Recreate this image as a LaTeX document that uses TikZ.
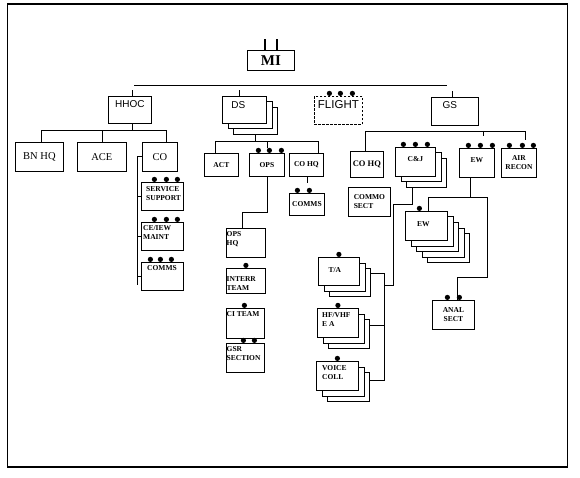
\documentclass[tikz,border=0pt]{standalone}
\usepackage{fontspec}
\setmainfont{Liberation Serif}
\setsansfont{Liberation Sans}
\usetikzlibrary{positioning, shadows}

\newcommand{\unitdots}[2]{\foreach \d in {#2}{\fill (#1.north) ++(\d,-2.6) circle (2.6pt);}}

\begin{document}
\begin{tikzpicture}[x=1pt, y=-1pt,
  box/.style={draw, fill=white, line width=.8pt, inner sep=0pt, anchor=north west},
  stack/.style={box, copy shadow={shadow xshift=11pt, shadow yshift=-11pt},
    copy shadow={shadow xshift=5.5pt, shadow yshift=-5.5pt}},
  deep/.style={box, copy shadow={shadow xshift=22pt, shadow yshift=-22pt},
    copy shadow={shadow xshift=16.5pt, shadow yshift=-16.5pt},
    copy shadow={shadow xshift=11pt, shadow yshift=-11pt},
    copy shadow={shadow xshift=5.5pt, shadow yshift=-5.5pt}},
  ln/.style={line width=.8pt},
  unittick/.style={line width=1.2pt},
  tag/.style={font=\fontsize{7.5}{9}\selectfont\bfseries, align=left, inner sep=1pt},
  big/.style={font=\fontsize{10.5}{12}\selectfont},
  hdr/.style={font=\sffamily\fontsize{10}{12}\selectfont, inner sep=1pt}]
  \useasboundingbox (0,0) rectangle (580,478);
  \draw[line width=1pt] (7,4) rectangle (567,467);
  \draw[line width=2pt] (7,4) -- (567,4) (7,467) -- (567,467);

  % top
  \node[box, minimum width=47pt, minimum height=20pt, font=\fontsize{15}{15}\selectfont\bfseries] (mi) at (247,50) {MI};
  \draw[unittick] ([xshift=-6pt]mi.north) -- ++(0,-11);
  \draw[unittick] ([xshift=6pt]mi.north) -- ++(0,-11);
  \draw[ln] (134,85) -- (447,85);

  \node[box, minimum width=43pt, minimum height=27pt, label={[hdr, anchor=north, yshift=-3pt]north:HHOC}] (hhoc) at (108,96) {};
  \node[stack, minimum width=44pt, minimum height=27pt, label={[hdr, anchor=north, xshift=-6pt, yshift=-4pt]north:DS}] (ds) at (222,96) {};
  \node[box, dashed, dash pattern=on 2.5pt off 1.5pt, minimum width=48pt, minimum height=28pt,
    label={[hdr, anchor=north, yshift=-3pt, font=\sffamily\fontsize{11.5}{12}\selectfont]north:FLIGHT}] (flight) at (314,96) {};
  \node[box, minimum width=47pt, minimum height=28pt, label={[hdr, anchor=north, xshift=-5pt, yshift=-3pt]north:GS}] (gs) at (431,97) {};
  \draw[unittick] ([xshift=2.5pt]hhoc.north) -- ++(0,-6);
  \draw[unittick] ([xshift=-5pt]ds.north) -- ++(0,-6);
  \draw[unittick] ([xshift=-2.5pt]gs.north) -- ++(0,-6);
  \unitdots{flight}{-9,2,14}

  % HHOC
  \node[box, big, minimum width=48pt, minimum height=29pt] (bnhq) at (15,142) {BN HQ};
  \node[box, big, minimum width=49pt, minimum height=29pt] (ace) at (77,142) {ACE};
  \node[box, big, minimum width=35pt, minimum height=29pt] (co) at (142,142) {CO};
  \draw[ln] ([xshift=2.5pt]hhoc.south) -- ++(0,7) coordinate (hb);
  \draw[ln] ([xshift=2pt]bnhq.north) |- (hb) -| ([xshift=6.5pt]co.north);
  \draw[ln] (ace.north) -- (ace.north |- hb);

  \node[box, minimum width=42pt, minimum height=28pt, label={[tag, anchor=north west, xshift=4pt, yshift=-3pt]north west:SERVICE\\SUPPORT}] (ss) at (141,182) {};
  \node[box, minimum width=42pt, minimum height=28pt, label={[tag, anchor=north west, xshift=1pt, yshift=-2.5pt]north west:CE/IEW\\MAINT}] (ce) at (141,222) {};
  \node[box, minimum width=42pt, minimum height=28pt, label={[tag, anchor=north west, xshift=5pt, yshift=-2.5pt]north west:COMMS}] (cm) at (141,262) {};
  \draw[ln] (co.west) -| ([xshift=-4pt, yshift=-9pt]cm.west);
  \foreach \n in {ss,ce,cm} \draw[ln] (\n.west) -- ++(-4,0);
  \unitdots{ss}{-8,4,15}
  \unitdots{ce}{-8,4,15}
  \unitdots{cm}{-12,-2,9}

  % DS
  \node[box, tag, minimum width=34pt, minimum height=23pt] (act) at (204,153) {ACT};
  \node[box, tag, minimum width=35pt, minimum height=23pt] (ops) at (249,153) {OPS};
  \node[box, tag, minimum width=34pt, minimum height=23pt] (cohq) at (289,153) {CO HQ};
  \draw[ln] ([xshift=11pt, yshift=-11pt]ds.south) -- ++(0,7) coordinate (db);
  \draw[ln] ([xshift=-6pt]act.north) |- (db) -| ([xshift=12pt]cohq.north);
  \draw[ln] (ops.north |- db) -- ++(0,6);
  \unitdots{ops}{-8.5,2.5,14.5}

  \node[box, tag, minimum width=35pt, minimum height=22pt] (dcm) at (289,193) {COMMS};
  \draw[ln] ([xshift=1pt]cohq.south) -- ++(0,6);
  \unitdots{dcm}{-9.5,2.5}

  \node[box, minimum width=39pt, minimum height=29pt, label={[tag, anchor=north west, inner sep=.5pt, yshift=-3pt]north west:OPS\\HQ}] (opshq) at (226,228) {};
  \node[box, minimum width=39pt, minimum height=25pt, label={[tag, anchor=north west, inner sep=.5pt, yshift=-7.5pt]north west:INTERR\\TEAM}] (interr) at (226,268) {};
  \node[box, minimum width=38pt, minimum height=30pt, label={[tag, anchor=north west, inner sep=.5pt, yshift=-3pt]north west:CI TEAM}] (ci) at (226,308) {};
  \node[box, minimum width=38pt, minimum height=29pt, label={[tag, anchor=north west, inner sep=.5pt, yshift=-3pt]north west:GSR\\SECTION}] (gsr) at (226,343) {};
  \draw[ln] (ops.south) -- ++(0,36) -| ([xshift=-3.5pt]opshq.north);
  \unitdots{interr}{0}
  \unitdots{ci}{-1}
  \unitdots{gsr}{-2,9}

  % GS
  \node[box, tag, font=\fontsize{8.5}{9}\selectfont\bfseries, minimum width=33pt, minimum height=26pt] (gcohq) at (350,151) {CO HQ};
  \node[stack, minimum width=40pt, minimum height=29pt, label={[tag, anchor=north, yshift=-8.5pt]north:C\&J}] (cj) at (395,147) {};
  \node[box, minimum width=35pt, minimum height=29pt, label={[tag, anchor=north, yshift=-8.5pt]north:EW}] (ew) at (459,148) {};
  \node[box, tag, align=center, minimum width=35pt, minimum height=29pt] (air) at (501,148) {AIR\\RECON};
  \draw[ln] ([xshift=-1.5pt]gcohq.north) -- ++(0,-20) coordinate (gb) -| ([xshift=6.5pt, yshift=8pt]air.north);
  \draw[ln] ([xshift=6.5pt]ew.north |- gb) -- ++(0,5);
  \unitdots{cj}{-12,0,12}
  \unitdots{ew}{-8.5,3.5,15.5}
  \unitdots{air}{-9.5,3.5,14.5}

  \node[box, tag, minimum width=42pt, minimum height=29pt] (csect) at (348,187) {COMMO\\SECT};

  \node[stack, tag, minimum width=41pt, minimum height=28pt, label={[tag, anchor=center, xshift=-4pt, yshift=1pt]center:T/A}] (ta) at (318,257) {};
  \node[stack, minimum width=41pt, minimum height=29pt, label={[tag, anchor=north west, xshift=4pt, yshift=-3.5pt]north west:HF/VHF\\E A}] (hf) at (317,308) {};
  \node[stack, minimum width=42pt, minimum height=29pt, label={[tag, anchor=north west, xshift=5pt, yshift=-3pt]north west:VOICE\\COLL}] (vc) at (316,361) {};
  \draw[ln] ([xshift=-3pt, yshift=-11pt]cj.south) -- ++(0,17) -| ++(-19,81) -- ++(-9,0);
  \draw[ln] ([xshift=11pt, yshift=-2pt]ta.east) -| ([xshift=26pt, yshift=-4.5pt]vc.east) -- ([xshift=11pt, yshift=-4.5pt]vc.east);
  \draw[ln] ([xshift=11pt, yshift=-2.5pt]hf.east) -- ++(15,0);
  \unitdots{ta}{0}
  \unitdots{hf}{0}
  \unitdots{vc}{0}

  \node[deep, tag, minimum width=42pt, minimum height=29pt, label={[tag, anchor=center, xshift=-3pt, yshift=2pt]center:EW}] (ewl) at (405,211) {};
  \node[box, tag, align=center, minimum width=42pt, minimum height=29pt] (anal) at (432,300) {ANAL\\SECT};
  \draw[ln] ([xshift=-6.5pt]ew.south) -- ++(0,20) coordinate (eb);
  \draw[ln] (eb) -| ([xshift=2pt]ewl.north);
  \draw[ln] (eb) -| ++(17,80) -| ([xshift=4pt]anal.north);
  \unitdots{ewl}{-7}
  \unitdots{anal}{-6,6}
\end{tikzpicture}
\end{document}
